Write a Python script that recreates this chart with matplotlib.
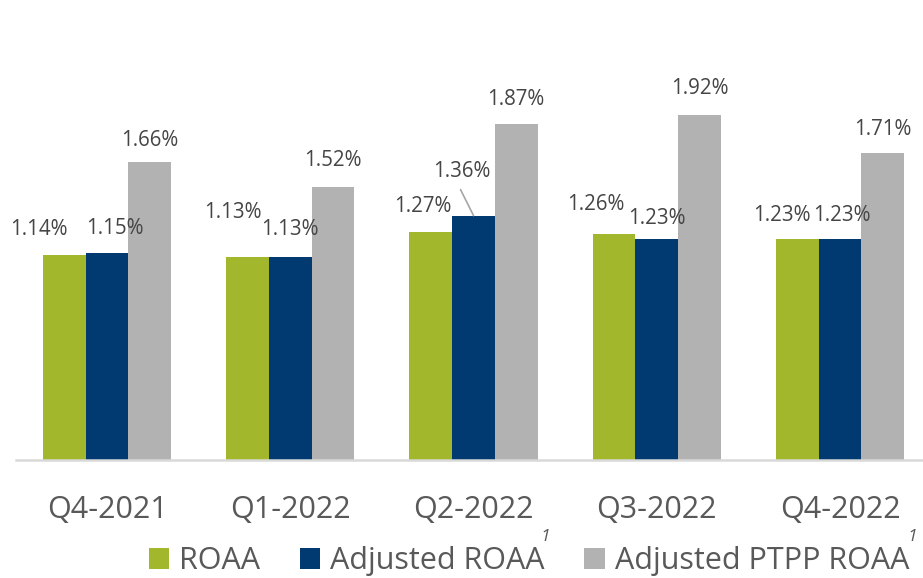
import matplotlib
matplotlib.use("Agg")
import matplotlib.pyplot as plt
import numpy as np

plt.rcParams['font.family'] = ['Open Sans', 'DejaVu Sans']

categories = ["Q4-2021", "Q1-2022", "Q2-2022", "Q3-2022", "Q4-2022"]
series_names = ["ROAA", "Adjusted ROAA", "Adjusted PTPP ROAA"]
roaa = [1.14, 1.13, 1.27, 1.26, 1.23]
adj_roaa = [1.15, 1.13, 1.36, 1.23, 1.23]
adj_ptpp_roaa = [1.66, 1.52, 1.87, 1.92, 1.71]
footnote_categories = ["Q2-2022", "Q4-2022"]

# styling
colors = ["#A2B72B", "#003A70", "#B2B2B2"]
text_color = "#595959"
label_color = "#454545"
# label offsets (pixels) from top-centre of each bar, as placed in reference
label_dx = [[-25, -15, -8, -18, -15],
            [8, 0, -12, 0, 2],
            [0, 0, 0, 0, 0]]
label_dy = [[26, 44, 25, 29, 23],
            [25, 27, 44, 20, 23],
            [21, 26, 24, 26, 23]]

W, H = 923, 578
fig = plt.figure(figsize=(W / 100, H / 100), dpi=100)
ax = fig.add_axes([16 / W, (H - 460) / H, 1 - 16 / W, 460 / H])

values = [roaa, adj_roaa, adj_ptpp_roaa]
x = np.arange(len(categories))
bw = 0.233
for i, (vals, name, c) in enumerate(zip(values, series_names, colors)):
    xs = x + (i - 1) * bw
    ax.bar(xs, vals, width=bw, color=c, label=name, zorder=2)
    for j, v in enumerate(vals):
        dx, dy = label_dx[i][j], label_dy[i][j]
        ax.annotate(f"{v:.2f}%", xy=(xs[j], v), xytext=(dx, dy),
                    textcoords="offset pixels", ha="center", va="center",
                    fontsize=14.8, color=label_color, zorder=3)
        if i == 1 and dy > 40:
            # leader line
            ax.annotate("", xy=(xs[j], v), xytext=(dx - 1, dy - 18),
                        textcoords="offset pixels",
                        arrowprops=dict(arrowstyle="-", color="#A6A6A6", lw=1.2,
                                        shrinkA=0, shrinkB=0))

ax.set_xlim(-0.497, 4.453)
ax.set_ylim(0, 460 / 179.7)
ax.set_yticks([])
ax.set_xticks(x)
ax.set_xticklabels(categories, fontsize=22, color=text_color)
ax.tick_params(axis="x", length=0, pad=25)
for s in ["top", "right", "left"]:
    ax.spines[s].set_visible(False)
ax.spines["bottom"].set_color("#D9D9D9")
ax.spines["bottom"].set_linewidth(1.8)

# footnote markers
for cat in footnote_categories:
    k = categories.index(cat)
    ax.annotate("1", xy=(k, 0), xytext=(72, -77), textcoords="offset pixels",
                ha="center", va="center", fontsize=12.5, style="italic",
                color=text_color)

handles, labels = ax.get_legend_handles_labels()
fig.legend(handles, labels, loc="center left",
           bbox_to_anchor=(149 / W, 1 - 561 / H), ncol=3, frameon=False,
           fontsize=22, labelcolor=text_color, borderpad=0, borderaxespad=0,
           handlelength=0.66, handleheight=0.66, handletextpad=0.33,
           columnspacing=1.3)

fig.savefig("out.png", dpi=100)
